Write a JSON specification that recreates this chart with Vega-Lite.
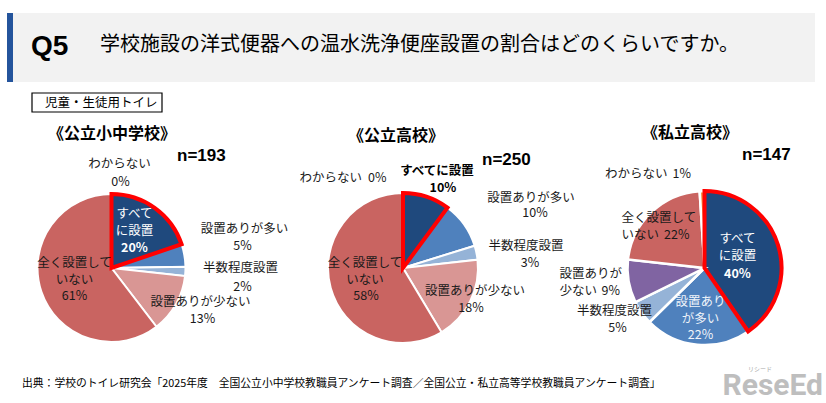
{
  "$schema": "https://vega.github.io/schema/vega-lite/v6.json",
  "padding": 0,
  "autosize": {"type": "pad"},
  "background": "white",
  "bounds": "flush",
  "spacing": 0,
  "config": {
    "view": {"stroke": null},
    "concat": {"spacing": 0},
    "text": {"font": "Noto Sans CJK JP", "fontSize": 12.5, "lineHeight": 17, "fill": "#1a1a1a", "align": "center", "baseline": "middle"}
  },
  "datasets": {
    "header": [{"q": "Q5", "question": "学校施設の洋式便器への温水洗浄便座設置の割合はどのくらいですか。", "subset": "児童・生徒用トイレ"}],
    "footer": [{"source": "出典：学校のトイレ研究会「2025年度　全国公立小中学校教職員アンケート調査／全国公立・私立高等学校教職員アンケート調査」", "brand": "ReseEd", "brandKana": "リシード"}],
    "schools": [
      {"school": "公立小中学校", "title": "《公立小中学校》", "n": "n=193"},
      {"school": "公立高校", "title": "《公立高校》", "n": "n=250"},
      {"school": "私立高校", "title": "《私立高校》", "n": "n=147"}
    ],
    "slices": [
      {"school": "公立小中学校", "order": 1, "category": "すべてに設置", "share": 0.20, "label": ["すべて", "に設置"]},
      {"school": "公立小中学校", "order": 2, "category": "設置ありが多い", "share": 0.05, "label": ["設置ありが多い"]},
      {"school": "公立小中学校", "order": 3, "category": "半数程度設置", "share": 0.02, "label": ["半数程度設置"]},
      {"school": "公立小中学校", "order": 4, "category": "設置ありが少ない", "share": 0.13, "label": ["設置ありが少ない"]},
      {"school": "公立小中学校", "order": 5, "category": "全く設置していない", "share": 0.61, "label": ["全く設置して", "いない"]},
      {"school": "公立小中学校", "order": 6, "category": "わからない", "share": 0.00, "label": ["わからない"]},
      {"school": "公立高校", "order": 1, "category": "すべてに設置", "share": 0.10, "label": ["すべてに設置"]},
      {"school": "公立高校", "order": 2, "category": "設置ありが多い", "share": 0.10, "label": ["設置ありが多い"]},
      {"school": "公立高校", "order": 3, "category": "半数程度設置", "share": 0.03, "label": ["半数程度設置"]},
      {"school": "公立高校", "order": 4, "category": "設置ありが少ない", "share": 0.18, "label": ["設置ありが少ない"]},
      {"school": "公立高校", "order": 5, "category": "全く設置していない", "share": 0.58, "label": ["全く設置して", "いない"]},
      {"school": "公立高校", "order": 6, "category": "わからない", "share": 0.00, "label": ["わからない"]},
      {"school": "私立高校", "order": 1, "category": "すべてに設置", "share": 0.40, "label": ["すべて", "に設置"]},
      {"school": "私立高校", "order": 2, "category": "設置ありが多い", "share": 0.22, "label": ["設置あり", "が多い"]},
      {"school": "私立高校", "order": 3, "category": "半数程度設置", "share": 0.05, "label": ["半数程度設置"]},
      {"school": "私立高校", "order": 4, "category": "設置ありが少ない", "share": 0.09, "label": ["設置ありが", "少ない"]},
      {"school": "私立高校", "order": 5, "category": "全く設置していない", "share": 0.22, "label": ["全く設置して", "いない"]},
      {"school": "私立高校", "order": 6, "category": "わからない", "share": 0.01, "label": ["わからない"]}
    ]
  },
  "vconcat": [
    {
      "width": 826, "height": 151,
      "data": {"name": "header"},
      "layer": [
        {"mark": {"type": "rect", "x": 7, "x2": 815, "y": 13, "y2": 82, "fill": "#F2F2F2"}, "encoding": {}},
        {"mark": {"type": "rect", "x": 7, "x2": 13, "y": 13, "y2": 82, "fill": "#24549C"}, "encoding": {}},
        {"mark": {"type": "text", "x": 31, "y": 55, "align": "left", "baseline": "alphabetic", "font": "Liberation Sans", "fontSize": 28, "fontWeight": "bold", "fill": "#000000"}, "encoding": {"text": {"field": "q", "type": "nominal"}}},
        {"mark": {"type": "text", "x": 100, "y": 45, "align": "left", "baseline": "middle", "fontSize": 20, "fill": "#000000"}, "encoding": {"text": {"field": "question", "type": "nominal"}}},
        {"mark": {"type": "rect", "x": 32, "x2": 162, "y": 93, "y2": 112, "fill": "white", "stroke": "#000000", "strokeWidth": 1.2}, "encoding": {}},
        {"mark": {"type": "text", "x": 45, "y": 102.5, "align": "left", "baseline": "middle", "fontSize": 12.5, "fill": "#000000"}, "encoding": {"text": {"field": "subset", "type": "nominal"}}}
      ]
    },
    {
      "bounds": "flush",
      "spacing": 0,
      "resolve": {"scale": {"color": "independent"}},
      "hconcat": [
        {
          "width": 223, "height": 234,
          "data": {"name": "slices"},
          "transform": [{"filter": "datum.school === '公立小中学校'"}],
          "layer": [
            {"mark": {"type": "arc", "outerRadius": 74, "stroke": "white", "strokeWidth": 2},
             "encoding": {
               "theta": {"field": "share", "type": "quantitative", "stack": true},
               "order": {"field": "order", "type": "quantitative"},
               "color": {"field": "category", "type": "nominal", "legend": null,
                 "scale": {"domain": ["すべてに設置", "設置ありが多い", "半数程度設置", "設置ありが少ない", "全く設置していない", "わからない"],
                           "range": ["#1F497D", "#4F81BD", "#95B3D7", "#D99694", "#C96461", "#F79646"]}}}},
            {"mark": {"type": "arc", "outerRadius": 74, "fill": "transparent", "stroke": "#FF0000", "strokeWidth": 4, "strokeJoin": "miter"},
             "encoding": {
               "theta": {"field": "share", "type": "quantitative", "stack": true},
               "order": {"field": "order", "type": "quantitative"},
               "strokeOpacity": {"condition": {"test": "datum.category === 'すべてに設置'", "value": 1}, "value": 0}}},
            {"transform": [{"filter": "datum.category === 'わからない'"}], "mark": {"type": "text", "dx": 8, "dy": -104}, "encoding": {"text": {"field": "label", "type": "nominal"}}},
            {"transform": [{"filter": "datum.category === 'わからない'"}], "mark": {"type": "text", "dx": 9, "dy": -86}, "encoding": {"text": {"field": "share", "type": "quantitative", "format": ".0%"}}},
            {"transform": [{"filter": "datum.category === 'すべてに設置'"}], "mark": {"type": "text", "dx": 23, "dy": -54, "fill": "white"}, "encoding": {"text": {"field": "label", "type": "nominal"}}},
            {"transform": [{"filter": "datum.category === 'すべてに設置'"}], "mark": {"type": "text", "dx": 23, "dy": -20, "fill": "white", "fontWeight": "bold"}, "encoding": {"text": {"field": "share", "type": "quantitative", "format": ".0%"}}},
            {"transform": [{"filter": "datum.category === '設置ありが多い'"}], "mark": {"type": "text", "dx": 133, "dy": -39}, "encoding": {"text": {"field": "label", "type": "nominal"}}},
            {"transform": [{"filter": "datum.category === '設置ありが多い'"}], "mark": {"type": "text", "dx": 131, "dy": -22}, "encoding": {"text": {"field": "share", "type": "quantitative", "format": ".0%"}}},
            {"transform": [{"filter": "datum.category === '半数程度設置'"}], "mark": {"type": "text", "dx": 129, "dy": 0}, "encoding": {"text": {"field": "label", "type": "nominal"}}},
            {"transform": [{"filter": "datum.category === '半数程度設置'"}], "mark": {"type": "text", "dx": 131, "dy": 19}, "encoding": {"text": {"field": "share", "type": "quantitative", "format": ".0%"}}},
            {"transform": [{"filter": "datum.category === '設置ありが少ない'"}], "mark": {"type": "text", "dx": 89, "dy": 34}, "encoding": {"text": {"field": "label", "type": "nominal"}}},
            {"transform": [{"filter": "datum.category === '設置ありが少ない'"}], "mark": {"type": "text", "dx": 91, "dy": 51}, "encoding": {"text": {"field": "share", "type": "quantitative", "format": ".0%"}}},
            {"transform": [{"filter": "datum.category === '全く設置していない'"}], "mark": {"type": "text", "dx": -37, "dy": -5}, "encoding": {"text": {"field": "label", "type": "nominal"}}},
            {"transform": [{"filter": "datum.category === '全く設置していない'"}], "mark": {"type": "text", "dx": -37, "dy": 28}, "encoding": {"text": {"field": "share", "type": "quantitative", "format": ".0%"}}},
            {"data": {"name": "schools"}, "transform": [{"filter": "datum.school === '公立小中学校'"}], "mark": {"type": "text", "dx": 0.5, "dy": -134, "fontSize": 16, "fontWeight": "bold", "fill": "#000000"}, "encoding": {"text": {"field": "title", "type": "nominal"}}},
            {"data": {"name": "schools"}, "transform": [{"filter": "datum.school === '公立小中学校'"}], "mark": {"type": "text", "dx": 65.5, "dy": -112, "align": "left", "font": "Liberation Sans", "fontSize": 17, "fontWeight": "bold", "fill": "#000000"}, "encoding": {"text": {"field": "n", "type": "nominal"}}},
            {"data": {"name": "footer"}, "mark": {"type": "text", "x": 22, "y": 233, "align": "left", "baseline": "middle", "fontSize": 10.8, "fill": "#000000"}, "encoding": {"text": {"field": "source", "type": "nominal"}}}
          ]
        },
        {
          "width": 360, "height": 234,
          "data": {"name": "slices"},
          "transform": [{"filter": "datum.school === '公立高校'"}],
          "layer": [
            {"mark": {"type": "arc", "outerRadius": 75, "stroke": "white", "strokeWidth": 2},
             "encoding": {
               "theta": {"field": "share", "type": "quantitative", "stack": true},
               "order": {"field": "order", "type": "quantitative"},
               "color": {"field": "category", "type": "nominal", "legend": null,
                 "scale": {"domain": ["すべてに設置", "設置ありが多い", "半数程度設置", "設置ありが少ない", "全く設置していない", "わからない"],
                           "range": ["#1F497D", "#4F81BD", "#95B3D7", "#D99694", "#C96461", "#F79646"]}}}},
            {"mark": {"type": "arc", "outerRadius": 75, "fill": "transparent", "stroke": "#FF0000", "strokeWidth": 4, "strokeJoin": "miter"},
             "encoding": {
               "theta": {"field": "share", "type": "quantitative", "stack": true},
               "order": {"field": "order", "type": "quantitative"},
               "strokeOpacity": {"condition": {"test": "datum.category === 'すべてに設置'", "value": 1}, "value": 0}}},
            {"transform": [{"filter": "datum.category === 'わからない'"}], "mark": {"type": "text", "dx": -41, "dy": -90, "align": "right"}, "encoding": {"text": {"field": "label", "type": "nominal"}}},
            {"transform": [{"filter": "datum.category === 'わからない'"}], "mark": {"type": "text", "dx": -35, "dy": -90, "align": "left"}, "encoding": {"text": {"field": "share", "type": "quantitative", "format": ".0%"}}},
            {"transform": [{"filter": "datum.category === 'すべてに設置'"}], "mark": {"type": "text", "dx": 34, "dy": -97, "fontWeight": "bold", "fill": "#000000"}, "encoding": {"text": {"field": "label", "type": "nominal"}}},
            {"transform": [{"filter": "datum.category === 'すべてに設置'"}], "mark": {"type": "text", "dx": 40, "dy": -80, "fontWeight": "bold", "fill": "#000000"}, "encoding": {"text": {"field": "share", "type": "quantitative", "format": ".0%"}}},
            {"transform": [{"filter": "datum.category === '設置ありが多い'"}], "mark": {"type": "text", "dx": 128, "dy": -70}, "encoding": {"text": {"field": "label", "type": "nominal"}}},
            {"transform": [{"filter": "datum.category === '設置ありが多い'"}], "mark": {"type": "text", "dx": 132, "dy": -55}, "encoding": {"text": {"field": "share", "type": "quantitative", "format": ".0%"}}},
            {"transform": [{"filter": "datum.category === '半数程度設置'"}], "mark": {"type": "text", "dx": 123, "dy": -22}, "encoding": {"text": {"field": "label", "type": "nominal"}}},
            {"transform": [{"filter": "datum.category === '半数程度設置'"}], "mark": {"type": "text", "dx": 127, "dy": -5}, "encoding": {"text": {"field": "share", "type": "quantitative", "format": ".0%"}}},
            {"transform": [{"filter": "datum.category === '設置ありが少ない'"}], "mark": {"type": "text", "dx": 72, "dy": 23}, "encoding": {"text": {"field": "label", "type": "nominal"}}},
            {"transform": [{"filter": "datum.category === '設置ありが少ない'"}], "mark": {"type": "text", "dx": 68, "dy": 40}, "encoding": {"text": {"field": "share", "type": "quantitative", "format": ".0%"}}},
            {"transform": [{"filter": "datum.category === '全く設置していない'"}], "mark": {"type": "text", "dx": -38, "dy": -5}, "encoding": {"text": {"field": "label", "type": "nominal"}}},
            {"transform": [{"filter": "datum.category === '全く設置していない'"}], "mark": {"type": "text", "dx": -37, "dy": 28}, "encoding": {"text": {"field": "share", "type": "quantitative", "format": ".0%"}}},
            {"data": {"name": "schools"}, "transform": [{"filter": "datum.school === '公立高校'"}], "mark": {"type": "text", "dx": -7, "dy": -132, "fontSize": 16, "fontWeight": "bold", "fill": "#000000"}, "encoding": {"text": {"field": "title", "type": "nominal"}}},
            {"data": {"name": "schools"}, "transform": [{"filter": "datum.school === '公立高校'"}], "mark": {"type": "text", "dx": 79, "dy": -108, "align": "left", "font": "Liberation Sans", "fontSize": 17, "fontWeight": "bold", "fill": "#000000"}, "encoding": {"text": {"field": "n", "type": "nominal"}}}
          ]
        },
        {
          "width": 243, "height": 234,
          "data": {"name": "slices"},
          "transform": [{"filter": "datum.school === '私立高校'"}],
          "layer": [
            {"mark": {"type": "arc", "outerRadius": 77, "stroke": "white", "strokeWidth": 2.5},
             "encoding": {
               "theta": {"field": "share", "type": "quantitative", "stack": true},
               "order": {"field": "order", "type": "quantitative"},
               "color": {"field": "category", "type": "nominal", "legend": null,
                 "scale": {"domain": ["すべてに設置", "設置ありが多い", "半数程度設置", "設置ありが少ない", "全く設置していない", "わからない"],
                           "range": ["#1F497D", "#4F81BD", "#95B3D7", "#8064A2", "#C96461", "#F79646"]}}}},
            {"mark": {"type": "arc", "outerRadius": 77, "fill": "transparent", "stroke": "#FF0000", "strokeWidth": 4, "strokeJoin": "miter"},
             "encoding": {
               "theta": {"field": "share", "type": "quantitative", "stack": true},
               "order": {"field": "order", "type": "quantitative"},
               "strokeOpacity": {"condition": {"test": "datum.category === 'すべてに設置'", "value": 1}, "value": 0}}},
            {"transform": [{"filter": "datum.category === 'わからない'"}], "mark": {"type": "text", "dx": -37, "dy": -94, "align": "right"}, "encoding": {"text": {"field": "label", "type": "nominal"}}},
            {"transform": [{"filter": "datum.category === 'わからない'"}], "mark": {"type": "text", "dx": -32, "dy": -94, "align": "left"}, "encoding": {"text": {"field": "share", "type": "quantitative", "format": ".0%"}}},
            {"transform": [{"filter": "datum.category === 'すべてに設置'"}], "mark": {"type": "text", "dx": 33, "dy": -29, "fill": "white"}, "encoding": {"text": {"field": "label", "type": "nominal"}}},
            {"transform": [{"filter": "datum.category === 'すべてに設置'"}], "mark": {"type": "text", "dx": 33, "dy": 6, "fill": "white", "fontWeight": "bold"}, "encoding": {"text": {"field": "share", "type": "quantitative", "format": ".0%"}}},
            {"transform": [{"filter": "datum.category === '設置ありが多い'"}], "mark": {"type": "text", "dx": -4, "dy": 33.7, "fill": "#F0F4FA"}, "encoding": {"text": {"field": "label", "type": "nominal"}}},
            {"transform": [{"filter": "datum.category === '設置ありが多い'"}], "mark": {"type": "text", "dx": -4, "dy": 67, "fill": "#F0F4FA"}, "encoding": {"text": {"field": "share", "type": "quantitative", "format": ".0%"}}},
            {"transform": [{"filter": "datum.category === '半数程度設置'"}], "mark": {"type": "text", "dx": -90, "dy": 43}, "encoding": {"text": {"field": "label", "type": "nominal"}}},
            {"transform": [{"filter": "datum.category === '半数程度設置'"}], "mark": {"type": "text", "dx": -87, "dy": 60}, "encoding": {"text": {"field": "share", "type": "quantitative", "format": ".0%"}}},
            {"transform": [{"filter": "datum.category === '設置ありが少ない'"}], "mark": {"type": "text", "dx": -145, "dy": 6.3, "align": "left"}, "encoding": {"text": {"field": "label", "type": "nominal"}}},
            {"transform": [{"filter": "datum.category === '設置ありが少ない'"}], "mark": {"type": "text", "dx": -103, "dy": 23.3, "align": "left"}, "encoding": {"text": {"field": "share", "type": "quantitative", "format": ".0%"}}},
            {"transform": [{"filter": "datum.category === '全く設置していない'"}], "mark": {"type": "text", "dx": -83, "dy": -50.3, "align": "left"}, "encoding": {"text": {"field": "label", "type": "nominal"}}},
            {"transform": [{"filter": "datum.category === '全く設置していない'"}], "mark": {"type": "text", "dx": -15, "dy": -33.3, "align": "right"}, "encoding": {"text": {"field": "share", "type": "quantitative", "format": ".0%"}}},
            {"data": {"name": "schools"}, "transform": [{"filter": "datum.school === '私立高校'"}], "mark": {"type": "text", "dx": -14.5, "dy": -135, "fontSize": 16, "fontWeight": "bold", "fill": "#000000"}, "encoding": {"text": {"field": "title", "type": "nominal"}}},
            {"data": {"name": "schools"}, "transform": [{"filter": "datum.school === '私立高校'"}], "mark": {"type": "text", "dx": 37.5, "dy": -113, "align": "left", "font": "Liberation Sans", "fontSize": 17, "fontWeight": "bold", "fill": "#000000"}, "encoding": {"text": {"field": "n", "type": "nominal"}}},
            {"data": {"name": "footer"}, "mark": {"type": "text", "x": 240, "y": 235, "align": "right", "baseline": "middle", "font": "Roboto", "fontSize": 30, "fontWeight": "bold", "fill": "#BEBEBE"}, "encoding": {"text": {"field": "brand", "type": "nominal"}}},
            {"data": {"name": "footer"}, "mark": {"type": "text", "x": 177, "y": 218, "align": "center", "baseline": "middle", "fontSize": 6, "fill": "#AAAAAA"}, "encoding": {"text": {"field": "brandKana", "type": "nominal"}}}
          ]
        }
      ]
    }
  ]
}
